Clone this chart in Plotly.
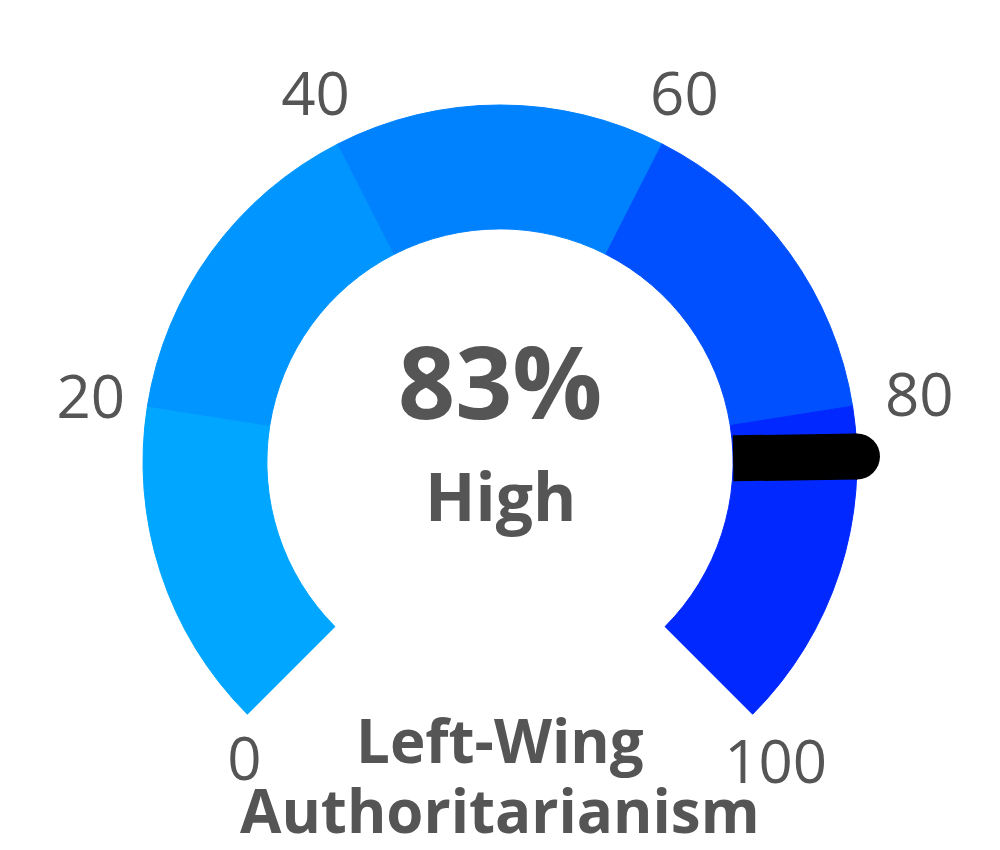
import plotly.graph_objects as go

# gauge data
band_edges = [0, 20, 40, 60, 80, 100]
band_colors = ["#00A6FF", "#0095FF", "#0082FF", "#0050FF", "#0028FF"]
tick_values = [0, 20, 40, 60, 80, 100]
tick_labels = ["0", "20", "40", "60", "80", "100"]
score = 83
level = "High"
title_lines = ["Left-Wing", "Authoritarianism"]

# geometry / style
SWEEP = 270          # degrees covered by 0..100
INNER = 0.653        # inner radius of the ring (radial units)
OUTER = 1.0
RMAX = 1.15          # radial range, leaves room for the labels
GREY = "#555555"
label_r = [1.080, 1.063, 1.138, 1.138, 1.092, 1.092]
label_pos = ["bottom right", "middle left", "middle center",
             "middle center", "middle right", "bottom center"]

# the page body has an 8px margin, so the figure is 16px smaller
W, H = 984, 834


def to_deg(v):
    return v * SWEEP / 100.0


fig = go.Figure()

# coloured bands
mids = [(a + b) / 2 for a, b in zip(band_edges[:-1], band_edges[1:])]
spans = [b - a for a, b in zip(band_edges[:-1], band_edges[1:])]
fig.add_trace(go.Barpolar(
    theta=[to_deg(m) for m in mids],
    width=[to_deg(s) for s in spans],
    r=[OUTER - INNER] * len(mids),
    base=INNER,
    marker=dict(color=band_colors, line=dict(color=band_colors, width=1)),
    hoverinfo="skip",
))

# needle
fig.add_trace(go.Scatterpolar(
    r=[INNER, OUTER],
    theta=[to_deg(score), to_deg(score)],
    mode="lines",
    line=dict(color="black", width=46),
    cliponaxis=False,
    hoverinfo="skip",
))
fig.add_trace(go.Scatterpolar(
    r=[OUTER],
    theta=[to_deg(score)],
    mode="markers",
    marker=dict(color="black", size=46, line=dict(width=0)),
    cliponaxis=False,
    hoverinfo="skip",
))

# tick labels round the ring
fig.add_trace(go.Scatterpolar(
    r=label_r,
    theta=[to_deg(v) for v in tick_values],
    mode="text",
    text=tick_labels,
    textposition=label_pos,
    textfont=dict(family="Open Sans", size=60, color=GREY),
    cliponaxis=False,
    hoverinfo="skip",
))

annotations = [
    dict(text=f"<b>{score}%</b>", y=0.5540, font=dict(size=100)),
    dict(text=f"<b>{level}</b>", y=0.4155, font=dict(size=66)),
    dict(text=f"<b>{title_lines[0]}</b>", y=0.1223, font=dict(size=60)),
    dict(text=f"<b>{title_lines[1]}</b>", y=0.0389, font=dict(size=60)),
]
for a in annotations:
    a.update(x=0.5, xref="paper", yref="paper", xanchor="center",
             yanchor="middle", showarrow=False)
    a["font"].update(family="Open Sans", color=GREY)

# ring centre at (492, 454) px, 357 px per radial unit
R_PX = 357 * RMAX
CX, CY = 492, 454
x0, x1 = (CX - R_PX) / W, (CX + R_PX) / W
y1 = (H - (CY - R_PX)) / H
y0 = y1 - R_PX * (1 + 0.5 ** 0.5) / H

fig.update_layout(
    width=W, height=H,
    margin=dict(l=0, r=0, t=0, b=0),
    paper_bgcolor="white",
    showlegend=False,
    font=dict(family="Open Sans", color=GREY),
    polar=dict(
        domain=dict(x=[x0, x1], y=[y0, y1]),
        sector=[-45, 225],
        bgcolor="rgba(0,0,0,0)",
        bargap=0,
        radialaxis=dict(range=[0, RMAX], visible=False),
        angularaxis=dict(rotation=225, direction="clockwise", visible=False),
    ),
    annotations=annotations,
)

fig.write_html("out.html")
